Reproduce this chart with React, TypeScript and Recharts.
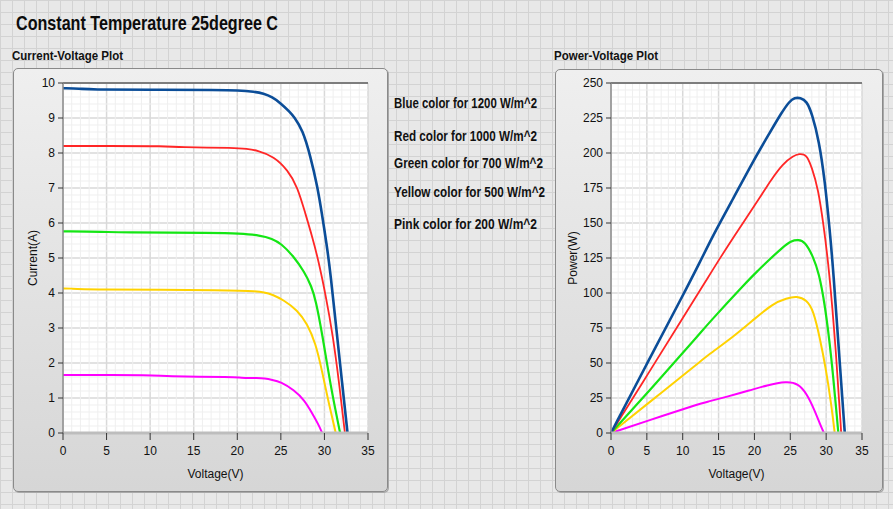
import { CartesianGrid, Line, LineChart, ReferenceLine, XAxis, YAxis } from "recharts";

type Pair = [number, number];

// axis ticks
const VOLTAGE_TICKS = [0, 5, 10, 15, 20, 25, 30, 35];
const CURRENT_TICKS = [0, 1, 2, 3, 4, 5, 6, 7, 8, 9, 10];
const POWER_TICKS = [0, 25, 50, 75, 100, 125, 150, 175, 200, 225, 250];

// I-V curves, [voltage, current]
const BLUE_IV: Pair[] = [
  [0, 9.85], [2, 9.84], [3, 9.81], [10, 9.81], [18, 9.8], [20, 9.79], [22, 9.75], [23, 9.7],
  [24, 9.6], [25, 9.42], [26, 9.18], [26.5, 9.04], [27.5, 8.66], [28.4, 7.9], [29.2, 7.04],
  [29.7, 6.28], [30.3, 5.32], [30.7, 4.55], [31.4, 2.9], [32, 1.5], [32.65, 0],
];
const RED_IV: Pair[] = [
  [0, 8.2], [5, 8.2], [12, 8.2], [13, 8.16], [20, 8.15], [21, 8.12], [22.3, 8.08], [24.2, 7.9],
  [25.8, 7.51], [26.9, 7.04], [27.8, 6.28], [28.6, 5.61], [29.3, 4.94], [30.1, 4.0], [31, 2.75],
  [31.7, 1.4], [32.35, 0],
];
const GREEN_IV: Pair[] = [
  [0, 5.76], [5, 5.75], [6, 5.73], [18, 5.72], [20, 5.7], [22.7, 5.65], [24, 5.55], [25, 5.42],
  [26.5, 5.04], [27.7, 4.6], [28.5, 4.2], [29, 3.8], [29.7, 2.9], [30.7, 1.35], [31.8, 0],
];
const YELLOW_IV: Pair[] = [
  [0, 4.13], [1, 4.13], [2, 4.1], [20, 4.08], [22, 4.05], [23.1, 4.02], [24, 3.96], [25.3, 3.8],
  [26.9, 3.51], [28, 3.13], [29, 2.56], [29.7, 1.8], [30.5, 0.85], [31.3, 0],
];
const PINK_IV: Pair[] = [
  [0, 1.66], [11, 1.66], [11.1, 1.62], [20, 1.6], [20.1, 1.58], [22.5, 1.57], [23.1, 1.56],
  [24, 1.52], [25, 1.46], [26.5, 1.23], [27.7, 0.94], [28.6, 0.56], [29.3, 0.25], [29.75, 0],
];

// P-V curves, [voltage, power]
const BLUE_PV: Pair[] = [
  [0, 0], [5, 49.5], [10, 98], [12.4, 122], [14.3, 142], [17.1, 168], [19.8, 194], [22.2, 215],
  [23.8, 229], [24.9, 237], [25.6, 239.5], [26.4, 239.5], [27.3, 237], [28, 228.5], [29, 209],
  [29.8, 181], [30.5, 145], [31, 116], [31.8, 57], [32.6, 0],
];
const RED_PV: Pair[] = [
  [0, 0], [5.5, 45], [10, 82], [13.4, 110], [15.2, 125], [18, 147], [21, 170], [22.2, 180],
  [24, 192.5], [25.4, 198], [26.3, 199.5], [26.9, 199], [27.3, 198], [28, 190], [28.9, 174],
  [29.6, 150], [30.4, 118], [31.4, 57], [32.1, 0],
];
const GREEN_PV: Pair[] = [
  [0, 0], [5.5, 31], [12.4, 71], [13.35, 77], [19.1, 109], [20.5, 116], [21.7, 122], [24, 133],
  [25.2, 137.5], [26.1, 138], [27, 137], [28.2, 126], [29, 114], [29.8, 92.6], [30.7, 56.8],
  [31.7, 0],
];
const YELLOW_PV: Pair[] = [
  [0, 0], [5.5, 22.5], [12.4, 50.8], [13.35, 55], [17.05, 68.7], [19.8, 80.6], [22.6, 92.6],
  [24.5, 96.2], [25.9, 97.8], [27.3, 95], [28.2, 87.8], [29.1, 68.7], [30, 44.9], [30.7, 21],
  [31.2, 0],
];
const PINK_PV: Pair[] = [
  [0, 0], [5, 8.5], [12.4, 21], [13.35, 22.2], [16.1, 25.8], [19.4, 30.5], [21.7, 34.1],
  [24.5, 37], [26.1, 35.3], [27.3, 28.2], [28.4, 16.2], [29.3, 4.3], [29.7, 0],
];

const LEGEND_LABELS = [
  "Blue color for 1200 W/m^2",
  "Red color for 1000 W/m^2",
  "Green color for 700 W/m^2",
  "Yellow color for 500 W/m^2",
  "Pink color for 200 W/m^2",
];

const SERIES = [
  { key: "pink", color: "#ff00ff", width: 2, iv: PINK_IV, pv: PINK_PV },
  { key: "yellow", color: "#ffd200", width: 2, iv: YELLOW_IV, pv: YELLOW_PV },
  { key: "green", color: "#14e614", width: 2.2, iv: GREEN_IV, pv: GREEN_PV },
  { key: "red", color: "#ff2626", width: 1.8, iv: RED_IV, pv: RED_PV },
  { key: "blue", color: "#0b4d98", width: 2.6, iv: BLUE_IV, pv: BLUE_PV },
];

const FONT = '"Liberation Sans", Arial, sans-serif';
const TICK_STYLE = { fill: "#111", fontSize: 12, fontFamily: FONT };

function toPoints(pairs: Pair[]) {
  return pairs.map(([x, y]) => ({ x, y }));
}

// minor grid values between major ticks, skipping the majors themselves
function minorValues(ticks: number[], parts: number) {
  const out: number[] = [];
  for (let k = 0; k < ticks.length - 1; k++) {
    const step = (ticks[k + 1] - ticks[k]) / parts;
    for (let j = 1; j < parts; j++) out.push(ticks[k] + step * j);
  }
  return out;
}

function panelStyle(left: number, top: number, width: number, height: number) {
  return {
    position: "absolute" as const,
    left,
    top,
    width,
    height,
    boxSizing: "border-box" as const,
    border: "1px solid #8a8a8a",
    borderRadius: 5,
    background: "linear-gradient(to bottom, #efefef, #d6d6d6)",
    boxShadow: "1px 1px 0 #a9a9a9",
  };
}

interface PlotProps {
  width: number;
  height: number;
  yTicks: number[];
  yMinorParts: number;
  yLabel: string;
  yAxisWidth: number;
  yLabelOffset: number;
  marginTop: number;
  marginRight: number;
  curve: "iv" | "pv";
}

function Plot({
  width,
  height,
  yTicks,
  yMinorParts,
  yLabel,
  yAxisWidth,
  yLabelOffset,
  marginTop,
  marginRight,
  curve,
}: PlotProps) {
  const yMax = yTicks[yTicks.length - 1];
  return (
    <LineChart
      width={width}
      height={height}
      margin={{ top: marginTop, right: marginRight, bottom: 14, left: 0 }}
    >
      <CartesianGrid stroke="#d9d9d9" strokeWidth={1.5} fill="#ffffff" />
      {minorValues(VOLTAGE_TICKS, 5).map((v) => (
        <ReferenceLine key={`mx${v}`} x={v} stroke="#efefef" strokeWidth={1} />
      ))}
      {minorValues(yTicks, yMinorParts).map((v) => (
        <ReferenceLine key={`my${v}`} y={v} stroke="#efefef" strokeWidth={1} />
      ))}
      <ReferenceLine y={yMax} stroke="#7d7d7d" strokeWidth={2} />
      <XAxis
        type="number"
        dataKey="x"
        domain={[0, 35]}
        ticks={VOLTAGE_TICKS}
        interval={0}
        height={45}
        axisLine={{ stroke: "#bdbdbd", strokeWidth: 3 }}
        tickLine={{ stroke: "#333" }}
        tickSize={7}
        tickMargin={6}
        tick={TICK_STYLE}
        label={{
          value: "Voltage(V)",
          position: "insideBottom",
          offset: 0,
          style: { fill: "#111", fontSize: 12, fontFamily: FONT },
        }}
      />
      <YAxis
        type="number"
        domain={[0, yMax]}
        ticks={yTicks}
        interval={0}
        width={yAxisWidth}
        axisLine={{ stroke: "#8c8c8c", strokeWidth: 1.5 }}
        tickLine={{ stroke: "#333" }}
        tickSize={5}
        tickMargin={3}
        tick={TICK_STYLE}
        label={{
          value: yLabel,
          angle: -90,
          position: "insideLeft",
          offset: yLabelOffset,
          style: { fill: "#111", fontSize: 12, fontFamily: FONT, textAnchor: "middle" },
        }}
      />
      {SERIES.map((s) => (
        <Line
          key={s.key}
          data={toPoints(curve === "iv" ? s.iv : s.pv)}
          dataKey="y"
          type="basis"
          stroke={s.color}
          strokeWidth={s.width}
          dot={false}
          activeDot={false}
          isAnimationActive={false}
        />
      ))}
    </LineChart>
  );
}

const LEGEND_BASELINES = [108, 141, 168, 197, 229];
const LEGEND_WIDTHS = [143, 143, 149, 151, 143];

export default function App() {
  return (
    <div
      style={{
        position: "absolute",
        left: 0,
        top: 0,
        width: 893,
        height: 509,
        overflow: "hidden",
        backgroundColor: "#e8e8e8",
        backgroundImage:
          "linear-gradient(to right, #d3d3d3 1px, transparent 1px), linear-gradient(to bottom, #d3d3d3 1px, transparent 1px)",
        backgroundSize: "12px 12px",
        fontFamily: FONT,
      }}
    >
      <div style={panelStyle(13, 68, 375, 424)} />
      <div style={panelStyle(555, 69, 328, 423)} />

      <svg width={893} height={509} style={{ position: "absolute", left: 0, top: 0 }}>
        <text
          x={16}
          y={30}
          fontSize={21}
          fontWeight="bold"
          fontFamily={FONT}
          fill="#0c0c0c"
          textLength={262}
          lengthAdjust="spacingAndGlyphs"
        >
          Constant Temperature 25degree C
        </text>
        <text
          x={12}
          y={60}
          fontSize={13}
          fontWeight="bold"
          fontFamily={FONT}
          fill="#111"
          textLength={111}
          lengthAdjust="spacingAndGlyphs"
        >
          Current-Voltage Plot
        </text>
        <text
          x={554}
          y={60}
          fontSize={13}
          fontWeight="bold"
          fontFamily={FONT}
          fill="#111"
          textLength={104}
          lengthAdjust="spacingAndGlyphs"
        >
          Power-Voltage Plot
        </text>
        {LEGEND_LABELS.map((label, idx) => (
          <text
            key={label}
            x={394}
            y={LEGEND_BASELINES[idx]}
            fontSize={14}
            fontWeight="bold"
            fontFamily={FONT}
            fill="#111"
            textLength={LEGEND_WIDTHS[idx]}
            lengthAdjust="spacingAndGlyphs"
          >
            {label}
          </text>
        ))}
      </svg>

      <div style={{ position: "absolute", left: 13, top: 68 }}>
        <Plot
          width={375}
          height={424}
          yTicks={CURRENT_TICKS}
          yMinorParts={5}
          yLabel="Current(A)"
          yAxisWidth={50}
          yLabelOffset={20}
          marginTop={15}
          marginRight={20}
          curve="iv"
        />
      </div>
      <div style={{ position: "absolute", left: 555, top: 69 }}>
        <Plot
          width={328}
          height={423}
          yTicks={POWER_TICKS}
          yMinorParts={5}
          yLabel="Power(W)"
          yAxisWidth={56}
          yLabelOffset={18}
          marginTop={14}
          marginRight={21}
          curve="pv"
        />
      </div>
    </div>
  );
}
